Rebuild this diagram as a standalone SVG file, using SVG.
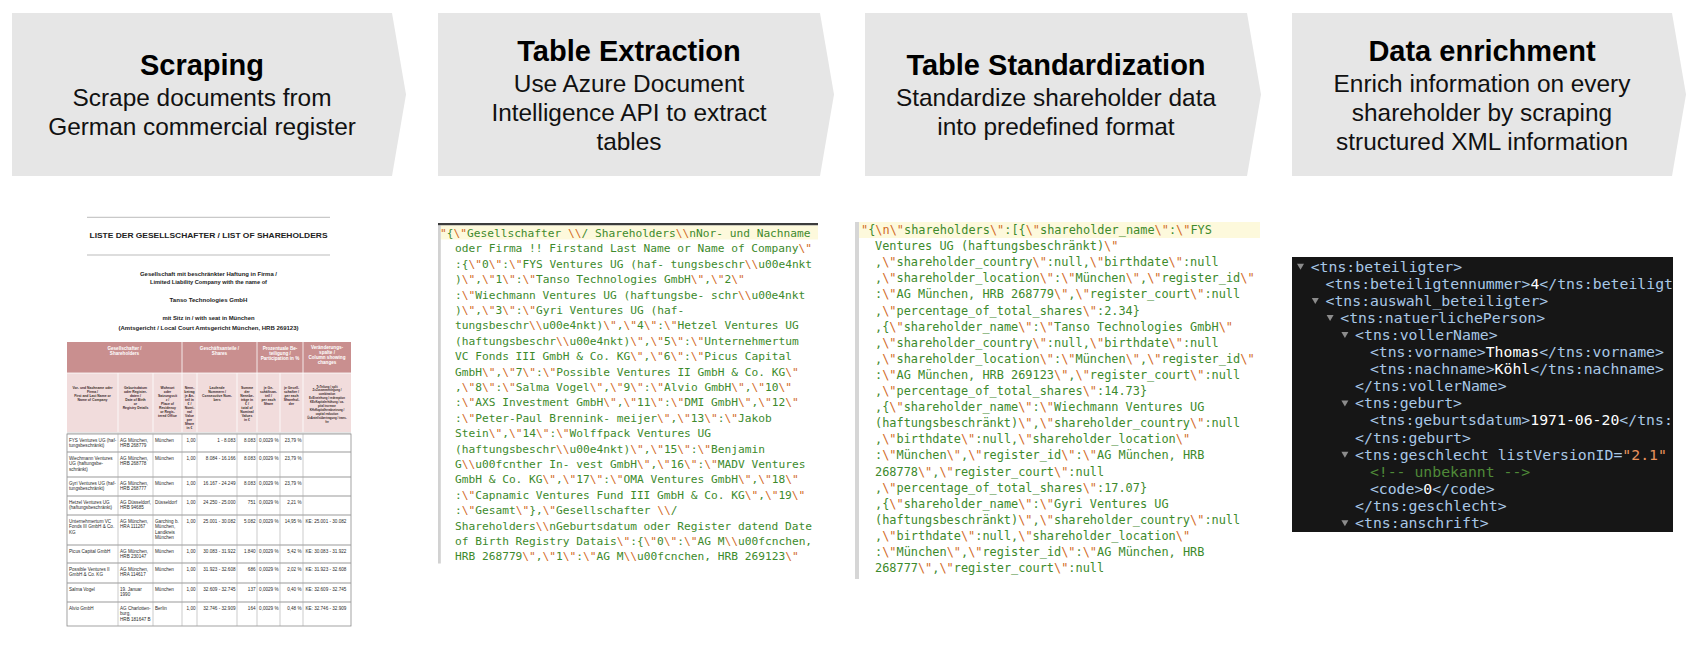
<svg xmlns="http://www.w3.org/2000/svg" width="1708" height="648" viewBox="0 0 1708 648">
<style>
.chev{fill:#e6e6e6}
.t{font-family:"Liberation Sans",Arial,sans-serif;font-weight:bold;font-size:29px;text-anchor:middle;fill:#000}
.s{font-family:"Liberation Sans",Arial,sans-serif;font-size:24.4px;text-anchor:middle;fill:#111}
.j2{font-family:"DejaVu Sans Mono",monospace;font-size:11.2px;fill:#3d8a2c}
.j3{font-family:"DejaVu Sans Mono",monospace;font-size:11.9px;fill:#3d8a2c}
.o{fill:#d2691e}
.x{font-family:"DejaVu Sans Mono",monospace;font-size:14.8px;fill:#a9c8e6}
.w{fill:#ffffff}
.cm{fill:#4f8a38}
.av{fill:#e8935d}
.tri{fill:#8c8c8c}
.dt{font-family:"Liberation Sans",Arial,sans-serif;font-weight:bold;fill:#222;text-anchor:middle}
.h1{font-family:"Liberation Sans",Arial,sans-serif;font-weight:bold;font-size:4.6px;fill:#fff;text-anchor:middle}
.h2{font-family:"Liberation Sans",Arial,sans-serif;font-weight:bold;font-size:3.4px;fill:#3a2a2a;text-anchor:middle}
.h9{font-family:"Liberation Sans",Arial,sans-serif;font-weight:bold;font-size:2.8px;fill:#3a2a2a;text-anchor:middle}
.d{font-family:"Liberation Sans",Arial,sans-serif;font-size:4.6px;fill:#2a2a2a}
.r{text-anchor:end}
.wl{stroke:#fff;stroke-width:0.8}
.gl{stroke:#999;stroke-width:1.2}
.vl{stroke:#aaa;stroke-width:0.6}
</style>
<defs>
<clipPath id="xclip"><rect x="1292" y="257" width="381" height="275"/></clipPath>
</defs>
<rect x="0" y="0" width="1708" height="648" fill="#ffffff"/>

<g id="step-scraping">
<polygon class="chev" points="12,13 392,13 406,94.5 392,176 12,176"/>
<text class="t" x="202" y="75">Scraping</text>
<text class="s" x="202" y="106">Scrape documents from</text>
<text class="s" x="202" y="135">German commercial register</text>
</g>
<g id="step-table-extraction">
<polygon class="chev" points="438,13 820,13 834,94.5 820,176 438,176"/>
<text class="t" x="629" y="61">Table Extraction</text>
<text class="s" x="629" y="92">Use Azure Document</text>
<text class="s" x="629" y="121">Intelligence API to extract</text>
<text class="s" x="629" y="150">tables</text>
</g>
<g id="step-table-standardization">
<polygon class="chev" points="865,13 1247,13 1261,94.5 1247,176 865,176"/>
<text class="t" x="1056" y="75">Table Standardization</text>
<text class="s" x="1056" y="106">Standardize shareholder data</text>
<text class="s" x="1056" y="135">into predefined format</text>
</g>
<g id="step-data-enrichment">
<polygon class="chev" points="1292,13 1672,13 1686,94.5 1672,176 1292,176"/>
<text class="t" x="1482" y="61">Data enrichment</text>
<text class="s" x="1482" y="92">Enrich information on every</text>
<text class="s" x="1482" y="121">shareholder by scraping</text>
<text class="s" x="1482" y="150">structured XML information</text>
</g>
<g id="connectors"></g>

<g id="panel-document">
<line x1="87" y1="217.3" x2="330" y2="217.3" stroke="#aaa" stroke-width="0.8"/>
<text class="dt" x="208.5" y="237.7" font-size="6.6" textLength="238" lengthAdjust="spacingAndGlyphs">LISTE DER GESELLSCHAFTER / LIST OF SHAREHOLDERS</text>
<line x1="87" y1="255" x2="330" y2="255" stroke="#aaa" stroke-width="0.8"/>
<text class="dt" x="208.5" y="275.5" font-size="4.8" textLength="137" lengthAdjust="spacingAndGlyphs">Gesellschaft mit beschränkter Haftung in Firma /</text>
<text class="dt" x="208.5" y="284" font-size="4.8" textLength="117" lengthAdjust="spacingAndGlyphs">Limited Liability Company with the name of</text>
<text class="dt" x="208.5" y="301.8" font-size="5.2" textLength="78" lengthAdjust="spacingAndGlyphs">Tanso Technologies GmbH</text>
<text class="dt" x="208.5" y="320" font-size="4.8" textLength="92" lengthAdjust="spacingAndGlyphs">mit Sitz in / with seat in München</text>
<text class="dt" x="208.5" y="330" font-size="4.8" textLength="180" lengthAdjust="spacingAndGlyphs">(Amtsgericht / Local Court Amtsgericht München, HRB 269123)</text>

<rect x="67" y="342" width="284" height="31" fill="#c98f8f"/>
<rect x="67" y="373" width="284" height="59" fill="#f1dcdc"/>
<line class="wl" x1="67" y1="373" x2="351" y2="373"/>
<line class="wl" x1="182" y1="342" x2="182" y2="432"/>
<line class="wl" x1="257" y1="342" x2="257" y2="432"/>
<line class="wl" x1="303" y1="342" x2="303" y2="432"/>
<line class="wl" x1="118" y1="373" x2="118" y2="432"/>
<line class="wl" x1="153" y1="373" x2="153" y2="432"/>
<line class="wl" x1="197" y1="373" x2="197" y2="432"/>
<line class="wl" x1="237" y1="373" x2="237" y2="432"/>
<line class="wl" x1="280" y1="373" x2="280" y2="432"/>

<text class="h1" x="124.5" y="349.5">Gesellschafter /<tspan x="124.5" dy="5">Shareholders</tspan></text>
<text class="h1" x="219.5" y="349.5">Geschäftsanteile /<tspan x="219.5" dy="5">Shares</tspan></text>
<text class="h1" x="280" y="349.5">Prozentuale Be-<tspan x="280" dy="5">teiligung /</tspan><tspan x="280" dy="5">Participation in %</tspan></text>
<text class="h1" x="327" y="348.8">Veränderungs-<tspan x="327" dy="5">spalte /</tspan><tspan x="327" dy="5">Column showing</tspan><tspan x="327" dy="5">changes</tspan></text>

<text class="h2" x="92.5" y="388.6">Vor- und Nachname oder<tspan x="92.5" dy="4">Firma /</tspan><tspan x="92.5" dy="4">First and Last Name or</tspan><tspan x="92.5" dy="4">Name of Company</tspan></text>
<text class="h2" x="135.5" y="388.6">Geburtsdatum<tspan x="135.5" dy="4">oder Register-</tspan><tspan x="135.5" dy="4">daten /</tspan><tspan x="135.5" dy="4">Date of Birth</tspan><tspan x="135.5" dy="4">or</tspan><tspan x="135.5" dy="4">Registry Details</tspan></text>
<text class="h2" x="167.5" y="388.6">Wohnort<tspan x="167.5" dy="4">oder</tspan><tspan x="167.5" dy="4">Satzungssit</tspan><tspan x="167.5" dy="4">z /</tspan><tspan x="167.5" dy="4">Place of</tspan><tspan x="167.5" dy="4">Residency</tspan><tspan x="167.5" dy="4">or Regis-</tspan><tspan x="167.5" dy="4">tered Office</tspan></text>
<text class="h2" x="189.5" y="388.6">Nenn-<tspan x="189.5" dy="4">betrag</tspan><tspan x="189.5" dy="4">je An-</tspan><tspan x="189.5" dy="4">teil in</tspan><tspan x="189.5" dy="4">€ /</tspan><tspan x="189.5" dy="4">Nomi-</tspan><tspan x="189.5" dy="4">nal</tspan><tspan x="189.5" dy="4">Value</tspan><tspan x="189.5" dy="4">per</tspan><tspan x="189.5" dy="4">Share</tspan><tspan x="189.5" dy="4">in €</tspan></text>
<text class="h2" x="217" y="388.6">Laufende<tspan x="217" dy="4">Nummern /</tspan><tspan x="217" dy="4">Consecutive Num-</tspan><tspan x="217" dy="4">bers</tspan></text>
<text class="h2" x="247" y="388.6">Summe<tspan x="247" dy="4">der</tspan><tspan x="247" dy="4">Nennbe-</tspan><tspan x="247" dy="4">träge in</tspan><tspan x="247" dy="4">€ /</tspan><tspan x="247" dy="4">total of</tspan><tspan x="247" dy="4">Nominal</tspan><tspan x="247" dy="4">Values</tspan><tspan x="247" dy="4">in €</tspan></text>
<text class="h2" x="268.5" y="388.6">je Ge-<tspan x="268.5" dy="4">schäftsan-</tspan><tspan x="268.5" dy="4">teil /</tspan><tspan x="268.5" dy="4">per each</tspan><tspan x="268.5" dy="4">Share</tspan></text>
<text class="h2" x="291.5" y="388.6">je Gesell-<tspan x="291.5" dy="4">schafter /</tspan><tspan x="291.5" dy="4">per each</tspan><tspan x="291.5" dy="4">Sharehol-</tspan><tspan x="291.5" dy="4">der</tspan></text>
<text class="h9" x="327" y="387.5">T=Teilung / split<tspan x="327" dy="3.9">Z=Zusammenlegung /</tspan><tspan x="327" dy="3.9">combination</tspan><tspan x="327" dy="3.9">E=Einziehung / redemption</tspan><tspan x="327" dy="3.9">KE=Kapitalerhöhung / ca-</tspan><tspan x="327" dy="3.9">pital increase</tspan><tspan x="327" dy="3.9">KH=Kapitalherabsetzung /</tspan><tspan x="327" dy="3.9">capital reduction</tspan><tspan x="327" dy="3.9">Ü=Anteilsübertragung / trans-</tspan><tspan x="327" dy="3.9">fer</tspan></text>

<line x1="67" y1="433" x2="351" y2="433" stroke="#aaa" stroke-width="0.6"/>
<rect x="67" y="434" width="284" height="192" fill="#fff" stroke="#8c8c8c" stroke-width="0.8"/>
<line class="gl" x1="67" y1="452" x2="351" y2="452"/>
<line class="gl" x1="67" y1="477" x2="351" y2="477"/>
<line class="gl" x1="67" y1="496" x2="351" y2="496"/>
<line class="gl" x1="67" y1="515" x2="351" y2="515"/>
<line class="gl" x1="67" y1="545" x2="351" y2="545"/>
<line class="gl" x1="67" y1="563" x2="351" y2="563"/>
<line class="gl" x1="67" y1="583" x2="351" y2="583"/>
<line class="gl" x1="67" y1="602" x2="351" y2="602"/>
<line class="vl" x1="118" y1="434" x2="118" y2="626"/>
<line class="vl" x1="153" y1="434" x2="153" y2="626"/>
<line class="vl" x1="182" y1="434" x2="182" y2="626"/>
<line class="vl" x1="197" y1="434" x2="197" y2="626"/>
<line class="vl" x1="237" y1="434" x2="237" y2="626"/>
<line class="vl" x1="257" y1="434" x2="257" y2="626"/>
<line class="vl" x1="280" y1="434" x2="280" y2="626"/>
<line class="vl" x1="303" y1="434" x2="303" y2="626"/>

<text class="d" x="69" y="441.8">FYS Ventures UG (haf-<tspan x="69" dy="5.5">tungsbeschränkt)</tspan></text>
<text class="d" x="120" y="441.8">AG München,<tspan x="120" dy="5.5">HRB 268779</tspan></text>
<text class="d" x="155" y="441.8">München</text>
<text class="d r" x="195.5" y="441.8">1,00</text>
<text class="d r" x="235.5" y="441.8">1 - 8.083</text>
<text class="d r" x="255.5" y="441.8">8.083</text>
<text class="d r" x="278.5" y="441.8">0,0029 %</text>
<text class="d r" x="301.5" y="441.8">23,79 %</text>

<text class="d" x="69" y="459.8">Wiechmann Ventures<tspan x="69" dy="5.5">UG (haftungsbe-</tspan><tspan x="69" dy="5.5">schränkt)</tspan></text>
<text class="d" x="120" y="459.8">AG München,<tspan x="120" dy="5.5">HRB 268778</tspan></text>
<text class="d" x="155" y="459.8">München</text>
<text class="d r" x="195.5" y="459.8">1,00</text>
<text class="d r" x="235.5" y="459.8">8.084 - 16.166</text>
<text class="d r" x="255.5" y="459.8">8.083</text>
<text class="d r" x="278.5" y="459.8">0,0029 %</text>
<text class="d r" x="301.5" y="459.8">23,79 %</text>

<text class="d" x="69" y="484.8">Gyri Ventures UG (haf-<tspan x="69" dy="5.5">tungsbeschränkt)</tspan></text>
<text class="d" x="120" y="484.8">AG München,<tspan x="120" dy="5.5">HRB 268777</tspan></text>
<text class="d" x="155" y="484.8">München</text>
<text class="d r" x="195.5" y="484.8">1,00</text>
<text class="d r" x="235.5" y="484.8">16.167 - 24.249</text>
<text class="d r" x="255.5" y="484.8">8.083</text>
<text class="d r" x="278.5" y="484.8">0,0029 %</text>
<text class="d r" x="301.5" y="484.8">23,79 %</text>

<text class="d" x="69" y="503.8">Hetzel Ventures UG<tspan x="69" dy="5.5">(haftungsbeschränkt)</tspan></text>
<text class="d" x="120" y="503.8">AG Düsseldorf,<tspan x="120" dy="5.5">HRB 94685</tspan></text>
<text class="d" x="155" y="503.8">Düsseldorf</text>
<text class="d r" x="195.5" y="503.8">1,00</text>
<text class="d r" x="235.5" y="503.8">24.250 - 25.000</text>
<text class="d r" x="255.5" y="503.8">751</text>
<text class="d r" x="278.5" y="503.8">0,0029 %</text>
<text class="d r" x="301.5" y="503.8">2,21 %</text>

<text class="d" x="69" y="522.8">Unternehmertum VC<tspan x="69" dy="5.5">Fonds III GmbH &amp; Co.</tspan><tspan x="69" dy="5.5">KG</tspan></text>
<text class="d" x="120" y="522.8">AG München,<tspan x="120" dy="5.5">HRA 111267</tspan></text>
<text class="d" x="155" y="522.8">Garching b.<tspan x="155" dy="5.5">München,</tspan><tspan x="155" dy="5.5">Landkreis</tspan><tspan x="155" dy="5.5">München</tspan></text>
<text class="d r" x="195.5" y="522.8">1,00</text>
<text class="d r" x="235.5" y="522.8">25.001 - 30.082</text>
<text class="d r" x="255.5" y="522.8">5.082</text>
<text class="d r" x="278.5" y="522.8">0,0029 %</text>
<text class="d r" x="301.5" y="522.8">14,95 %</text>
<text class="d" x="305.5" y="522.8">KE: 25.001 - 30.082</text>

<text class="d" x="69" y="552.8">Picus Capital GmbH</text>
<text class="d" x="120" y="552.8">AG München,<tspan x="120" dy="5.5">HRB 230147</tspan></text>
<text class="d" x="155" y="552.8">München</text>
<text class="d r" x="195.5" y="552.8">1,00</text>
<text class="d r" x="235.5" y="552.8">30.083 - 31.922</text>
<text class="d r" x="255.5" y="552.8">1.840</text>
<text class="d r" x="278.5" y="552.8">0,0029 %</text>
<text class="d r" x="301.5" y="552.8">5,42 %</text>
<text class="d" x="305.5" y="552.8">KE: 30.083 - 31.922</text>

<text class="d" x="69" y="570.8">Possible Ventures II<tspan x="69" dy="5.5">GmbH &amp; Co. KG</tspan></text>
<text class="d" x="120" y="570.8">AG München,<tspan x="120" dy="5.5">HRA 114617</tspan></text>
<text class="d" x="155" y="570.8">München</text>
<text class="d r" x="195.5" y="570.8">1,00</text>
<text class="d r" x="235.5" y="570.8">31.923 - 32.608</text>
<text class="d r" x="255.5" y="570.8">686</text>
<text class="d r" x="278.5" y="570.8">0,0029 %</text>
<text class="d r" x="301.5" y="570.8">2,02 %</text>
<text class="d" x="305.5" y="570.8">KE: 31.923 - 32.608</text>

<text class="d" x="69" y="590.8">Salma Vogel</text>
<text class="d" x="120" y="590.8">19. Januar<tspan x="120" dy="5.5">1990</tspan></text>
<text class="d" x="155" y="590.8">München</text>
<text class="d r" x="195.5" y="590.8">1,00</text>
<text class="d r" x="235.5" y="590.8">32.609 - 32.745</text>
<text class="d r" x="255.5" y="590.8">137</text>
<text class="d r" x="278.5" y="590.8">0,0029 %</text>
<text class="d r" x="301.5" y="590.8">0,40 %</text>
<text class="d" x="305.5" y="590.8">KE: 32.609 - 32.745</text>

<text class="d" x="69" y="609.8">Alvio GmbH</text>
<text class="d" x="120" y="609.8">AG Charlotten-<tspan x="120" dy="5.5">burg,</tspan><tspan x="120" dy="5.5">HRB 181647 B</tspan></text>
<text class="d" x="155" y="609.8">Berlin</text>
<text class="d r" x="195.5" y="609.8">1,00</text>
<text class="d r" x="235.5" y="609.8">32.746 - 32.909</text>
<text class="d r" x="255.5" y="609.8">164</text>
<text class="d r" x="278.5" y="609.8">0,0029 %</text>
<text class="d r" x="301.5" y="609.8">0,48 %</text>
<text class="d" x="305.5" y="609.8">KE: 32.746 - 32.909</text>
</g>

<g id="panel-extraction">
<rect x="438" y="223" width="380" height="2.5" fill="#3c3c3c"/>
<rect x="440.5" y="225.5" width="377.5" height="14" fill="#fdf9dc"/>
<rect x="438" y="225.5" width="2.8" height="338" fill="#d2d2d2"/>
<text class="j2" x="440" y="237"><tspan class="o">"</tspan>{<tspan class="o">\"</tspan>Gesellschafter <tspan class="o">\\</tspan>/ Shareholders<tspan class="o">\\</tspan>nNor- und Nachname</text>
<text class="j2" x="455" y="252.4">oder Firma !! Firstand Last Name or Name of Company<tspan class="o">\"</tspan></text>
<text class="j2" x="455" y="267.8">:{<tspan class="o">\"</tspan>0<tspan class="o">\"</tspan>:<tspan class="o">\"</tspan>FYS Ventures UG (haf- tungsbeschr<tspan class="o">\\</tspan>u00e4nkt</text>
<text class="j2" x="455" y="283.2">)<tspan class="o">\"</tspan>,<tspan class="o">\"</tspan>1<tspan class="o">\"</tspan>:<tspan class="o">\"</tspan>Tanso Technologies GmbH<tspan class="o">\"</tspan>,<tspan class="o">\"</tspan>2<tspan class="o">\"</tspan></text>
<text class="j2" x="455" y="298.6">:<tspan class="o">\"</tspan>Wiechmann Ventures UG (haftungsbe- schr<tspan class="o">\\</tspan>u00e4nkt</text>
<text class="j2" x="455" y="314">)<tspan class="o">\"</tspan>,<tspan class="o">\"</tspan>3<tspan class="o">\"</tspan>:<tspan class="o">\"</tspan>Gyri Ventures UG (haf-</text>
<text class="j2" x="455" y="329.4">tungsbeschr<tspan class="o">\\</tspan>u00e4nkt)<tspan class="o">\"</tspan>,<tspan class="o">\"</tspan>4<tspan class="o">\"</tspan>:<tspan class="o">\"</tspan>Hetzel Ventures UG</text>
<text class="j2" x="455" y="344.8">(haftungsbeschr<tspan class="o">\\</tspan>u00e4nkt)<tspan class="o">\"</tspan>,<tspan class="o">\"</tspan>5<tspan class="o">\"</tspan>:<tspan class="o">\"</tspan>Unternehmertum</text>
<text class="j2" x="455" y="360.2">VC Fonds III GmbH &amp; Co. KG<tspan class="o">\"</tspan>,<tspan class="o">\"</tspan>6<tspan class="o">\"</tspan>:<tspan class="o">\"</tspan>Picus Capital</text>
<text class="j2" x="455" y="375.6">GmbH<tspan class="o">\"</tspan>,<tspan class="o">\"</tspan>7<tspan class="o">\"</tspan>:<tspan class="o">\"</tspan>Possible Ventures II GmbH &amp; Co. KG<tspan class="o">\"</tspan></text>
<text class="j2" x="455" y="391">,<tspan class="o">\"</tspan>8<tspan class="o">\"</tspan>:<tspan class="o">\"</tspan>Salma Vogel<tspan class="o">\"</tspan>,<tspan class="o">\"</tspan>9<tspan class="o">\"</tspan>:<tspan class="o">\"</tspan>Alvio GmbH<tspan class="o">\"</tspan>,<tspan class="o">\"</tspan>10<tspan class="o">\"</tspan></text>
<text class="j2" x="455" y="406.4">:<tspan class="o">\"</tspan>AXS Investment GmbH<tspan class="o">\"</tspan>,<tspan class="o">\"</tspan>11<tspan class="o">\"</tspan>:<tspan class="o">\"</tspan>DMI GmbH<tspan class="o">\"</tspan>,<tspan class="o">\"</tspan>12<tspan class="o">\"</tspan></text>
<text class="j2" x="455" y="421.8">:<tspan class="o">\"</tspan>Peter-Paul Brennink- meijer<tspan class="o">\"</tspan>,<tspan class="o">\"</tspan>13<tspan class="o">\"</tspan>:<tspan class="o">\"</tspan>Jakob</text>
<text class="j2" x="455" y="437.2">Stein<tspan class="o">\"</tspan>,<tspan class="o">\"</tspan>14<tspan class="o">\"</tspan>:<tspan class="o">\"</tspan>Wolffpack Ventures UG</text>
<text class="j2" x="455" y="452.6">(haftungsbeschr<tspan class="o">\\</tspan>u00e4nkt)<tspan class="o">\"</tspan>,<tspan class="o">\"</tspan>15<tspan class="o">\"</tspan>:<tspan class="o">\"</tspan>Benjamin</text>
<text class="j2" x="455" y="468">G<tspan class="o">\\</tspan>u00fcnther In- vest GmbH<tspan class="o">\"</tspan>,<tspan class="o">\"</tspan>16<tspan class="o">\"</tspan>:<tspan class="o">\"</tspan>MADV Ventures</text>
<text class="j2" x="455" y="483.4">GmbH &amp; Co. KG<tspan class="o">\"</tspan>,<tspan class="o">\"</tspan>17<tspan class="o">\"</tspan>:<tspan class="o">\"</tspan>OMA Ventures GmbH<tspan class="o">\"</tspan>,<tspan class="o">\"</tspan>18<tspan class="o">\"</tspan></text>
<text class="j2" x="455" y="498.8">:<tspan class="o">\"</tspan>Capnamic Ventures Fund III GmbH &amp; Co. KG<tspan class="o">\"</tspan>,<tspan class="o">\"</tspan>19<tspan class="o">\"</tspan></text>
<text class="j2" x="455" y="514.2">:<tspan class="o">\"</tspan>Gesamt<tspan class="o">\"</tspan>},<tspan class="o">\"</tspan>Gesellschafter <tspan class="o">\\</tspan>/</text>
<text class="j2" x="455" y="529.6">Shareholders<tspan class="o">\\</tspan>nGeburtsdatum oder Register datend Date</text>
<text class="j2" x="455" y="545">of Birth Registry Datais<tspan class="o">\"</tspan>:{<tspan class="o">\"</tspan>0<tspan class="o">\"</tspan>:<tspan class="o">\"</tspan>AG M<tspan class="o">\\</tspan>u00fcnchen,</text>
<text class="j2" x="455" y="560.4">HRB 268779<tspan class="o">\"</tspan>,<tspan class="o">\"</tspan>1<tspan class="o">\"</tspan>:<tspan class="o">\"</tspan>AG M<tspan class="o">\\</tspan>u00fcnchen, HRB 269123<tspan class="o">\"</tspan></text>
</g>

<g id="panel-standardization">
<rect x="859" y="222" width="401" height="16" fill="#fdf9dc"/>
<rect x="855" y="222" width="4" height="357" fill="#d6d6d6"/>
<text class="j3" x="861" y="234"><tspan class="o">"</tspan>{<tspan class="o">\n\"</tspan>shareholders<tspan class="o">\"</tspan>:[{<tspan class="o">\"</tspan>shareholder_name<tspan class="o">\"</tspan>:<tspan class="o">\"</tspan>FYS</text>
<text class="j3" x="875" y="250.1">Ventures UG (haftungsbeschränkt)<tspan class="o">\"</tspan></text>
<text class="j3" x="875" y="266.2">,<tspan class="o">\"</tspan>shareholder_country<tspan class="o">\"</tspan>:null,<tspan class="o">\"</tspan>birthdate<tspan class="o">\"</tspan>:null</text>
<text class="j3" x="875" y="282.3">,<tspan class="o">\"</tspan>shareholder_location<tspan class="o">\"</tspan>:<tspan class="o">\"</tspan>München<tspan class="o">\"</tspan>,<tspan class="o">\"</tspan>register_id<tspan class="o">\"</tspan></text>
<text class="j3" x="875" y="298.4">:<tspan class="o">\"</tspan>AG München, HRB 268779<tspan class="o">\"</tspan>,<tspan class="o">\"</tspan>register_court<tspan class="o">\"</tspan>:null</text>
<text class="j3" x="875" y="314.5">,<tspan class="o">\"</tspan>percentage_of_total_shares<tspan class="o">\"</tspan>:2.34}</text>
<text class="j3" x="875" y="330.6">,{<tspan class="o">\"</tspan>shareholder_name<tspan class="o">\"</tspan>:<tspan class="o">\"</tspan>Tanso Technologies GmbH<tspan class="o">\"</tspan></text>
<text class="j3" x="875" y="346.7">,<tspan class="o">\"</tspan>shareholder_country<tspan class="o">\"</tspan>:null,<tspan class="o">\"</tspan>birthdate<tspan class="o">\"</tspan>:null</text>
<text class="j3" x="875" y="362.8">,<tspan class="o">\"</tspan>shareholder_location<tspan class="o">\"</tspan>:<tspan class="o">\"</tspan>München<tspan class="o">\"</tspan>,<tspan class="o">\"</tspan>register_id<tspan class="o">\"</tspan></text>
<text class="j3" x="875" y="378.9">:<tspan class="o">\"</tspan>AG München, HRB 269123<tspan class="o">\"</tspan>,<tspan class="o">\"</tspan>register_court<tspan class="o">\"</tspan>:null</text>
<text class="j3" x="875" y="395">,<tspan class="o">\"</tspan>percentage_of_total_shares<tspan class="o">\"</tspan>:14.73}</text>
<text class="j3" x="875" y="411.1">,{<tspan class="o">\"</tspan>shareholder_name<tspan class="o">\"</tspan>:<tspan class="o">\"</tspan>Wiechmann Ventures UG</text>
<text class="j3" x="875" y="427.2">(haftungsbeschränkt)<tspan class="o">\"</tspan>,<tspan class="o">\"</tspan>shareholder_country<tspan class="o">\"</tspan>:null</text>
<text class="j3" x="875" y="443.3">,<tspan class="o">\"</tspan>birthdate<tspan class="o">\"</tspan>:null,<tspan class="o">\"</tspan>shareholder_location<tspan class="o">\"</tspan></text>
<text class="j3" x="875" y="459.4">:<tspan class="o">\"</tspan>München<tspan class="o">\"</tspan>,<tspan class="o">\"</tspan>register_id<tspan class="o">\"</tspan>:<tspan class="o">\"</tspan>AG München, HRB</text>
<text class="j3" x="875" y="475.5">268778<tspan class="o">\"</tspan>,<tspan class="o">\"</tspan>register_court<tspan class="o">\"</tspan>:null</text>
<text class="j3" x="875" y="491.6">,<tspan class="o">\"</tspan>percentage_of_total_shares<tspan class="o">\"</tspan>:17.07}</text>
<text class="j3" x="875" y="507.7">,{<tspan class="o">\"</tspan>shareholder_name<tspan class="o">\"</tspan>:<tspan class="o">\"</tspan>Gyri Ventures UG</text>
<text class="j3" x="875" y="523.8">(haftungsbeschränkt)<tspan class="o">\"</tspan>,<tspan class="o">\"</tspan>shareholder_country<tspan class="o">\"</tspan>:null</text>
<text class="j3" x="875" y="539.9">,<tspan class="o">\"</tspan>birthdate<tspan class="o">\"</tspan>:null,<tspan class="o">\"</tspan>shareholder_location<tspan class="o">\"</tspan></text>
<text class="j3" x="875" y="556">:<tspan class="o">\"</tspan>München<tspan class="o">\"</tspan>,<tspan class="o">\"</tspan>register_id<tspan class="o">\"</tspan>:<tspan class="o">\"</tspan>AG München, HRB</text>
<text class="j3" x="875" y="572.1">268777<tspan class="o">\"</tspan>,<tspan class="o">\"</tspan>register_court<tspan class="o">\"</tspan>:null</text>
</g>

<g id="panel-enrichment">
<rect x="1292" y="257" width="381" height="275" fill="#161616"/>
<g clip-path="url(#xclip)">
<polygon class="tri" points="1297,263.7 1304,263.7 1300.5,269.7"/>
<text class="x" x="1310.7" y="271.5">&lt;tns:beteiligter&gt;</text>
<text class="x" x="1325.5" y="288.6">&lt;tns:beteiligtennummer&gt;<tspan class="w">4</tspan>&lt;/tns:beteiligt</text>
<polygon class="tri" points="1311.8,297.9 1318.8,297.9 1315.3,303.9"/>
<text class="x" x="1325.5" y="305.7">&lt;tns:auswahl_beteiligter&gt;</text>
<polygon class="tri" points="1326.6,315 1333.6,315 1330.1,321"/>
<text class="x" x="1340.3" y="322.8">&lt;tns:natuerlichePerson&gt;</text>
<polygon class="tri" points="1341.4,332.1 1348.4,332.1 1344.9,338.1"/>
<text class="x" x="1355.1" y="339.9">&lt;tns:vollerName&gt;</text>
<text class="x" x="1369.9" y="357">&lt;tns:vorname&gt;<tspan class="w">Thomas</tspan>&lt;/tns:vorname&gt;</text>
<text class="x" x="1369.9" y="374.1">&lt;tns:nachname&gt;<tspan class="w">Köhl</tspan>&lt;/tns:nachname&gt;</text>
<text class="x" x="1355.1" y="391.2">&lt;/tns:vollerName&gt;</text>
<polygon class="tri" points="1341.4,400.5 1348.4,400.5 1344.9,406.5"/>
<text class="x" x="1355.1" y="408.3">&lt;tns:geburt&gt;</text>
<text class="x" x="1369.9" y="425.4">&lt;tns:geburtsdatum&gt;<tspan class="w">1971-06-20</tspan>&lt;/tns:</text>
<text class="x" x="1355.1" y="442.5">&lt;/tns:geburt&gt;</text>
<polygon class="tri" points="1341.4,451.8 1348.4,451.8 1344.9,457.8"/>
<text class="x" x="1355.1" y="459.6">&lt;tns:geschlecht listVersionID=<tspan class="av">"2.1"</tspan></text>
<text class="x cm" x="1369.9" y="476.7">&lt;!-- unbekannt --&gt;</text>
<text class="x" x="1369.9" y="493.8">&lt;code&gt;<tspan class="w">0</tspan>&lt;/code&gt;</text>
<text class="x" x="1355.1" y="510.9">&lt;/tns:geschlecht&gt;</text>
<polygon class="tri" points="1341.4,520.2 1348.4,520.2 1344.9,526.2"/>
<text class="x" x="1355.1" y="528">&lt;tns:anschrift&gt;</text>
</g>
</g>
</svg>
